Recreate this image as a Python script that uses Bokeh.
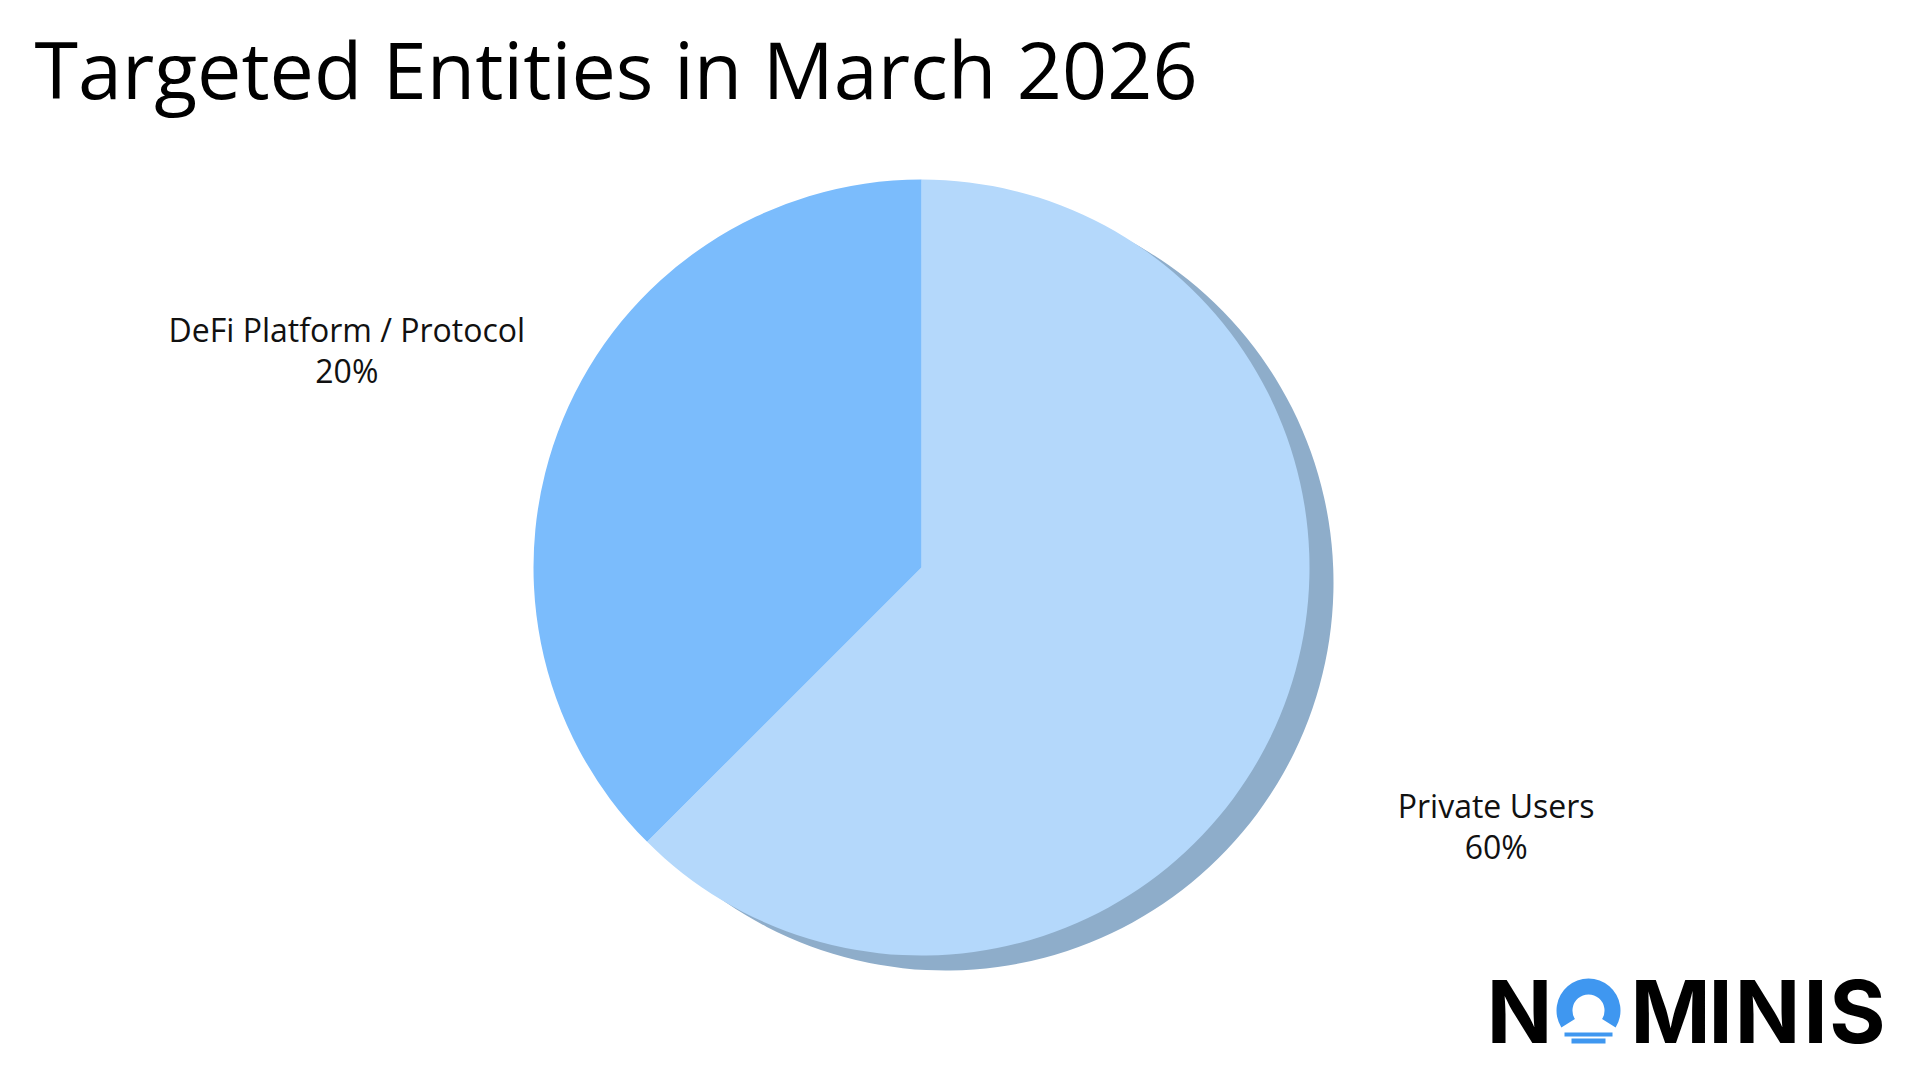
import numpy as np
from bokeh.plotting import figure
from bokeh.models import Range1d
from bokeh.core.properties import value
from bokeh.embed import file_html
from bokeh.resources import INLINE

# ---- data ----
categories = ["Private Users", "DeFi Platform / Protocol"]
values = [5, 3]                      # slice sizes as drawn
pct_labels = ["60%", "20%"]          # percentages printed on the chart
colors = ["#b4d8fb", "#7bbcfc"]
shadow_color = "#8eadca"
title = "Targeted Entities in March 2026"
logo_letters = ["N", "M", "I", "N", "I", "S"]

W, H = 1904, 1064
FONT = "Open Sans"
OS_SHIFT = 0.388      # text anchor correction (em) for Open Sans
INTER_SHIFT = 0.365   # text anchor correction (em) for Inter

p = figure(width=W, height=H, output_backend="svg", toolbar_location=None,
           x_range=Range1d(0, W), y_range=Range1d(1080 - H, 1080),
           min_border=0)
p.axis.visible = False
p.grid.visible = False
p.outline_line_color = None
p.background_fill_color = "white"
p.border_fill_color = "white"

def Y(y):  # reference pixel row -> data y
    return 1080 - y

cx, cy, r = 921, Y(567), 388
frac = np.array(values, float) / sum(values)
ends = np.cumsum(frac)
starts = ends - frac
start_ang = np.pi / 2 - 2 * np.pi * starts
end_ang = np.pi / 2 - 2 * np.pi * ends

# shadow under the first slice
p.wedge(x=cx + 24, y=cy - 15, radius=r, start_angle=start_ang[0], end_angle=end_ang[0],
        direction="clock", fill_color=shadow_color, line_color=None)
p.wedge(x=[cx] * len(values), y=[cy] * len(values), radius=r,
        start_angle=start_ang, end_angle=end_ang, direction="clock",
        fill_color=colors, line_color=None)

# slice labels placed along the mid angle of each slice
mid = (start_ang + end_ang) / 2
dist = 622
lab_size = 32
lx = cx + dist * np.cos(mid)
ly = cy + dist * np.sin(mid)
p.text(x=lx, y=ly - 12 + OS_SHIFT * lab_size, text=categories, text_align="center",
       text_baseline="alphabetic", text_font=value(FONT), text_font_size=f"{lab_size}px",
       text_color="#111111")
p.text(x=lx, y=ly - 53 + OS_SHIFT * lab_size, text=pct_labels, text_align="center",
       text_baseline="alphabetic", text_font=value(FONT), text_font_size=f"{lab_size}px",
       text_color="#111111")

# title
t_size = 79
p.text(x=[34], y=[Y(99) + OS_SHIFT * t_size], text=[title], text_align="left",
       text_baseline="alphabetic", text_font=value(FONT), text_font_size=f"{t_size}px",
       text_color="#000000")

# logo
l_size = 86
letter_cx = [1519, 1670, 1720, 1767, 1815, 1857]
p.text(x=letter_cx, y=[Y(1043) + INTER_SHIFT * l_size] * len(letter_cx), text=logo_letters,
       text_align="center", text_baseline="alphabetic", text_font=value("Inter"),
       text_font_style="bold", text_font_size=f"{l_size}px", text_color="#000000")
blue = "#3f97f0"
p.annular_wedge(x=1588, y=Y(1010), inner_radius=16, outer_radius=32,
                start_angle=np.deg2rad(-32), end_angle=np.deg2rad(212), direction="anticlock",
                fill_color=blue, line_color=None)
p.quad(left=[1564, 1571], right=[1612, 1605], top=[Y(1032), Y(1038)], bottom=[Y(1036), Y(1043)],
       fill_color=blue, line_color=None)

open("out.html", "w").write(file_html(p, INLINE))
